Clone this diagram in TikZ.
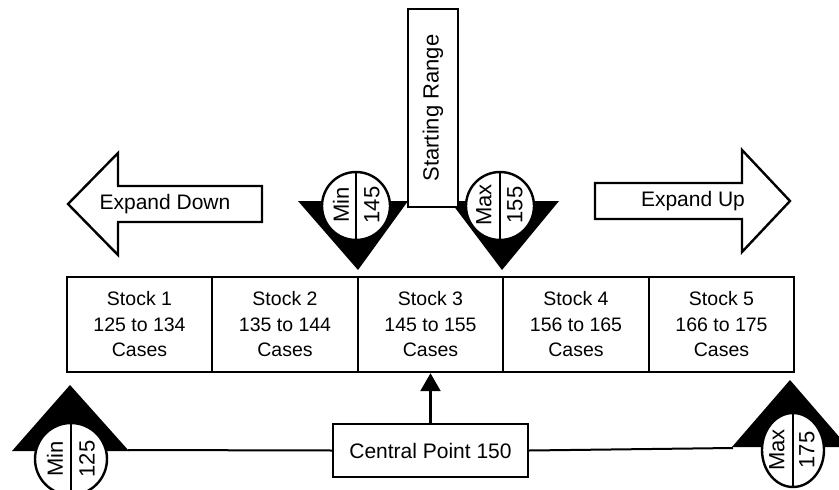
\documentclass[tikz,border=0pt]{standalone}
\usepackage{fontspec}
\setmainfont{Liberation Sans}
\usetikzlibrary{arrows.meta,shapes.geometric}
\begin{document}
\begin{tikzpicture}[x=1pt,y=-1pt,
  lw/.style={line width=2.4pt},
  thin/.style={line width=2pt},
  stockbox/.style={draw,lw,minimum width=145.5pt,minimum height=95pt,align=center,font=\fontsize{19.5}{25.5}\selectfont,inner sep=0pt},
  lbl/.style={font=\fontsize{21}{24}\selectfont},
  disc/.style={circle,draw,fill=white,lw,minimum size=68pt,inner sep=0pt},
  rot/.style={rotate=90,font=\fontsize{22}{24}\selectfont,inner sep=0pt},
  tri/.style={fill=black},
  bigarrow/.style={draw,lw,fill=white,line join=miter}
]
\clip (0,0) rectangle (839,490);
\fill[white] (0,0) rectangle (839,490);

% stock row
\node[stockbox] (s1) at (139.5,324.5) {Stock 1\\125 to 134\\Cases};
\node[stockbox] (s2) at (285,324.5) {Stock 2\\135 to 144\\Cases};
\node[stockbox] (s3) at (430.5,324.5) {Stock 3\\145 to 155\\Cases};
\node[stockbox] (s4) at (576,324.5) {Stock 4\\156 to 165\\Cases};
\node[stockbox] (s5) at (721.5,324.5) {Stock 5\\166 to 175\\Cases};

% starting range triangles
\fill[tri] (298,201) -- (408,201) -- (358,270) -- cycle;
\fill[tri] (450,201) -- (559,201) -- (502,270) -- cycle;
\node[draw,lw,fill=white,rotate=90,minimum width=198pt,minimum height=50pt,font=\fontsize{22}{24}\selectfont] (sr) at (433,108) {Starting Range};

\node[disc] (c145) at (356,206) {};
\draw[lw] (c145.north) -- (c145.south);
\node[rot] (t145a) at (341,205) {Min};
\node[rot] (t145b) at (372,205) {145};

\node[disc] (c155) at (500,206) {};
\draw[lw] (c155.north) -- (c155.south);
\node[rot] (t155a) at (484,205) {Max};
\node[rot] (t155b) at (515,205) {155};

% expand arrows
\draw[bigarrow] (68,204) -- (118,153) -- (118,186) -- (262,186) -- (262,222) -- (118,222) -- (118,255) -- cycle;
\node[lbl] (ed) at (165,204) {Expand Down};
\draw[bigarrow] (790,201) -- (742,150) -- (742,183) -- (595,183) -- (595,219) -- (742,219) -- (742,252) -- cycle;
\node[lbl] (eu) at (693,201) {Expand Up};

% bottom
\fill[tri] (70,385) -- (12,451) -- (129,451) -- cycle;
\coordinate (minR) at (128,450);
\node[disc,minimum size=72pt] (c125) at (71,459) {};
\draw[lw] (c125.north) -- (c125.south);
\node[rot] (t125a) at (55,459) {Min};
\node[rot] (t125b) at (87,459) {125};

\fill[tri] (790,380) -- (732,447) -- (848,447) -- cycle;
\coordinate (maxL) at (733,448);
\node[ellipse,draw,fill=white,lw,minimum width=62pt,minimum height=74pt,inner sep=0pt] (c175) at (793,450) {};
\draw[lw] (c175.north) -- (c175.south);
\node[rot] (t175a) at (777,450) {Max};
\node[rot] (t175b) at (807,450) {175};

\node[draw,lw,fill=white,minimum width=195pt,minimum height=53pt,lbl] (cp) at (430.5,450.5) {Central Point 150};
\draw[thin] (minR) -- (cp.west);
\draw[thin] (cp.east) -- (maxL);
\draw[lw,-{Triangle[length=18pt,width=20pt]}] (cp.north) -- (s3.south);
\end{tikzpicture}
\end{document}
